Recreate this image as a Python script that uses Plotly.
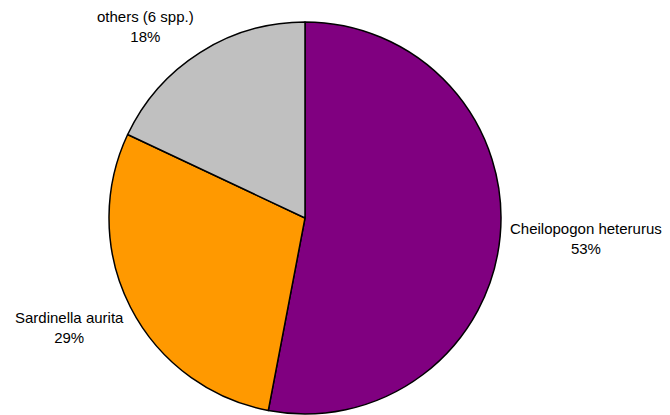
import plotly.graph_objects as go

labels = ["Cheilopogon heterurus", "Sardinella aurita", "others (6 spp.)"]
values = [53, 29, 18]
colors = ["#800080", "#FF9900", "#C0C0C0"]

# page body adds an 8px offset; positions below compensate
OFF = 8
label_x = [(586 - OFF) / 670, (69 - OFF) / 670, (145 - OFF) / 670]
label_y = [1 - (238 - OFF) / 415, 1 - (327 - OFF) / 415, 1 - (26 - OFF) / 415]

total = sum(values)

fig = go.Figure(go.Pie(
    labels=labels,
    values=values,
    sort=False,
    direction="clockwise",
    rotation=0,
    marker=dict(colors=colors, line=dict(color="black", width=1.5)),
    textinfo="none",
    hoverinfo="label+percent",
    showlegend=False,
    domain=dict(x=[(109 - OFF) / 670, (501 - OFF) / 670],
                y=[1 - (414 - OFF) / 415, 1 - (22 - OFF) / 415]),
))

for lab, v, x, y in zip(labels, values, label_x, label_y):
    fig.add_annotation(
        x=x, y=y, xref="paper", yref="paper",
        text=f"{lab}<br>{round(100 * v / total)}%",
        showarrow=False, align="center",
        xanchor="center", yanchor="middle",
        font=dict(family="Liberation Sans, Arial, sans-serif", size=15, color="black"),
    )

fig.update_layout(
    width=670, height=415,
    margin=dict(l=0, r=0, t=0, b=0),
    paper_bgcolor="white", plot_bgcolor="white",
)

fig.write_html("out.html")
